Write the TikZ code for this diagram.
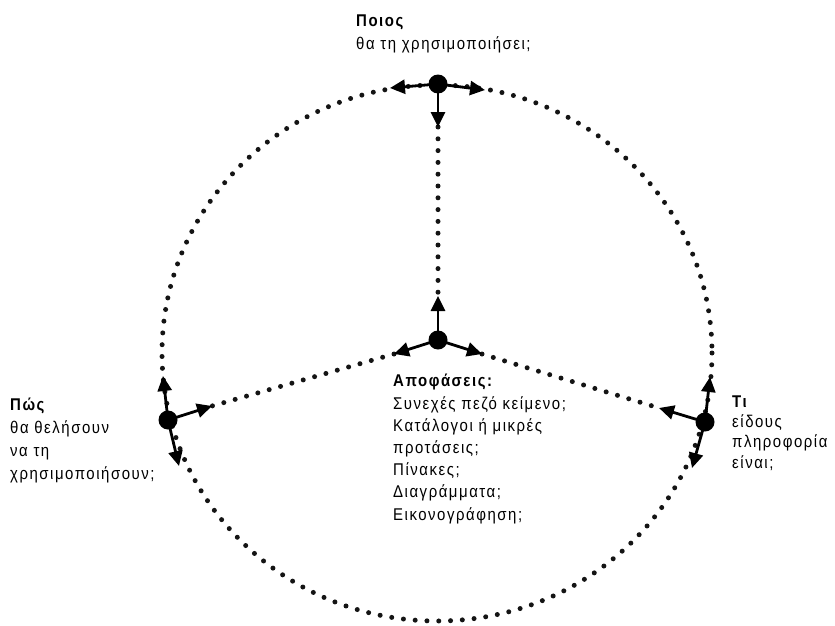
\documentclass[tikz,border=0pt]{standalone}
\usepackage{fontspec}
\setmainfont{Liberation Sans}[FakeStretch=0.88,LetterSpace=9]
\usetikzlibrary{arrows.meta}
\begin{document}
\begin{tikzpicture}[x=1pt,y=-1pt,
  hub/.style={circle,fill=black,inner sep=0pt,minimum size=19pt},
  arr/.style={draw=black,line width=2.8pt,-{Triangle[length=15pt,width=14pt]}},
  dotline/.style={draw=black!92,line width=5pt,line cap=round,dash pattern=on 0pt off 11.8pt},
  label/.style={text=black,align=left,inner sep=0pt,anchor=base west,
    font=\fontsize{17}{23}\selectfont},
]
\useasboundingbox (0,0) rectangle (835,626);

% outer dotted ring
\draw[dotline] (437,353) ellipse [x radius=275, y radius=268];

% the four hubs
\node[hub] (top)   at (438,84)  {};
\node[hub] (mid)   at (438,340) {};
\node[hub] (left)  at (168,420) {};
\node[hub] (right) at (705,422) {};

% arrow tips
\coordinate (topL)   at (390,88);
\coordinate (topR)   at (485,90);
\coordinate (topD)   at (438,127);
\coordinate (midU)   at (438,296);
\coordinate (midL)   at (394,354);
\coordinate (midR)   at (482,354);
\coordinate (leftU)  at (163,376);
\coordinate (leftR)  at (212,406);
\coordinate (leftD)  at (179,466);
\coordinate (rightU) at (710,377);
\coordinate (rightL) at (659,408);
\coordinate (rightD) at (692,468);

% dotted spokes between the hubs
\draw[dotline] (topD) -- (midU);
\draw[dotline] (midL) -- (leftR);
\draw[dotline] (midR) -- (rightL);

% arrows leaving each hub
\foreach \h/\t in {top/topL,top/topR,top/topD,mid/midU,mid/midL,mid/midR,
                   left/leftU,left/leftR,left/leftD,right/rightU,right/rightL,right/rightD}
  \draw[arr] (\h.center) -- (\t);

% labels (anchored at the baseline of their last line)
\node[label] (whoT) at (356,50) {\textbf{Ποιος}\\θα τη χρησιμοποιήσει;};
\node[label] (howT) at (10,479) {\textbf{Πώς}\\θα θελήσουν\\να τη\\χρησιμοποιήσουν;};
\node[label,font=\fontsize{17}{20.3}\selectfont] (whatT) at (732,468) {\textbf{Τι}\\είδους\\πληροφορία\\είναι;};
\node[label,font=\fontsize{17}{22.2}\selectfont] (decT) at (393,520) {\textbf{Αποφάσεις:}\\Συνεχές πεζό κείμενο;\\Κατάλογοι ή μικρές\\προτάσεις;\\Πίνακες;\\Διαγράμματα;\\Εικονογράφηση;};
\end{tikzpicture}
\end{document}
